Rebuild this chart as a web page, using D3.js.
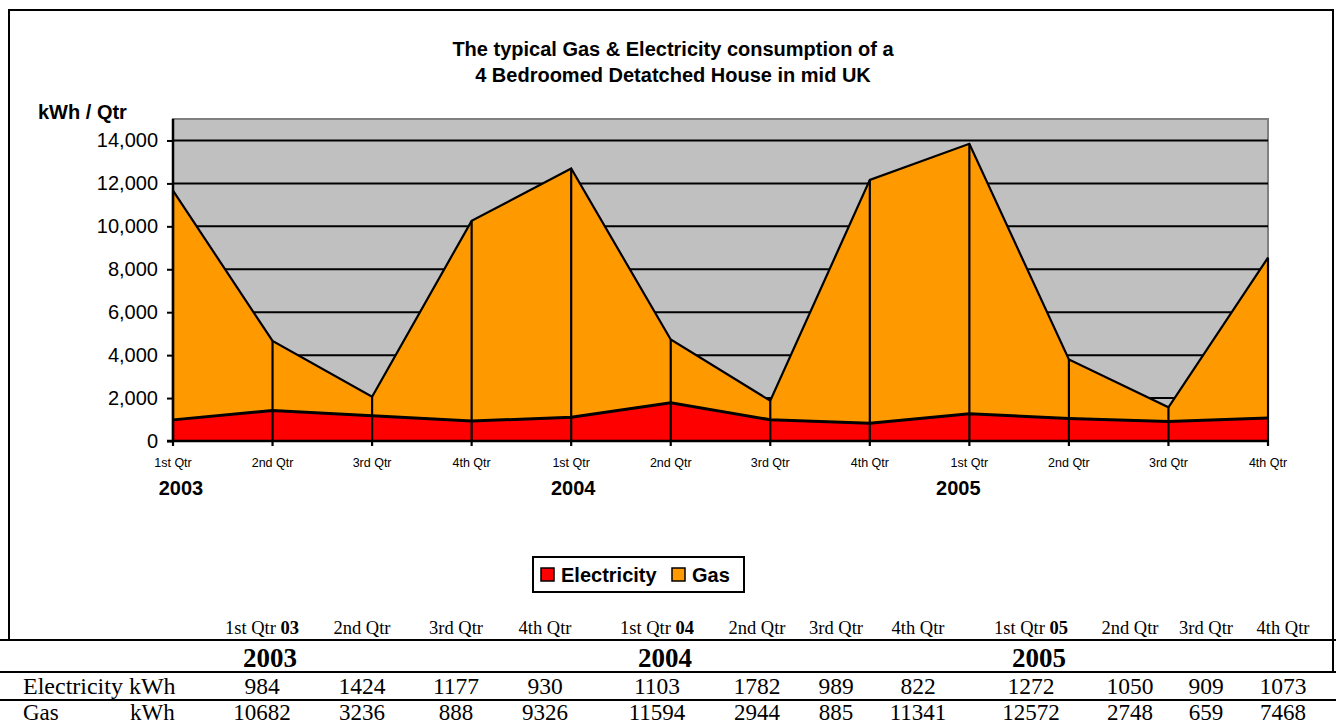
<!DOCTYPE html>
<meta charset="utf-8">
<style>
  body { margin: 0; background: #fff; }
  svg { display: block; }
  .chart text { font-family: Arial, "Liberation Sans", sans-serif; }
  .tbl text { font-family: "Times New Roman", "Liberation Serif", serif; }
</style>
<body>
<svg width="1336" height="725"></svg>
<script src="https://cdn.jsdelivr.net/npm/d3@7"></script>
<script>
  // data
  const quarters = ["1st Qtr", "2nd Qtr", "3rd Qtr", "4th Qtr",
                    "1st Qtr", "2nd Qtr", "3rd Qtr", "4th Qtr",
                    "1st Qtr", "2nd Qtr", "3rd Qtr", "4th Qtr"];
  const years = ["2003", "2004", "2005"];
  const electricity = [984, 1424, 1177, 930, 1103, 1782, 989, 822, 1272, 1050, 909, 1073];
  const gas = [10682, 3236, 888, 9326, 11594, 2944, 885, 11341, 12572, 2748, 659, 7468];
  const yTicks = [0, 2000, 4000, 6000, 8000, 10000, 12000, 14000];

  // table column centres (layout only)
  const tableCols = [262, 362, 456, 545, 657, 757, 836, 918, 1031, 1130, 1206, 1283];

  const svg = d3.select("svg");
  const plot = { left: 173, right: 1268, top: 119, bottom: 441 };

  const x = d3.scalePoint().domain(d3.range(quarters.length)).range([plot.left, plot.right]);
  const y = d3.scaleLinear().domain([0, 15000]).range([plot.bottom, plot.top]);

  const rows = quarters.map((q, i) => ({ i, e: electricity[i], g: gas[i] }));

  // outer frame
  svg.append("path")
      .attr("d", "M9,640 V10 H1333 V672")
      .attr("fill", "none").attr("stroke", "#000").attr("stroke-width", 2);

  const g = svg.append("g").attr("class", "chart");

  // title
  g.append("text").attr("x", 673).attr("y", 56).attr("text-anchor", "middle")
      .attr("font-size", 20).attr("font-weight", "bold")
      .text("The typical Gas & Electricity consumption of a");
  g.append("text").attr("x", 673).attr("y", 82).attr("text-anchor", "middle")
      .attr("font-size", 20).attr("font-weight", "bold")
      .text("4 Bedroomed Detatched House in mid UK");

  g.append("text").attr("x", 38).attr("y", 119)
      .attr("font-size", 20).attr("font-weight", "bold")
      .text("kWh / Qtr");

  // plot background
  g.append("rect")
      .attr("x", plot.left).attr("y", plot.top)
      .attr("width", plot.right - plot.left).attr("height", plot.bottom - plot.top)
      .attr("fill", "#c0c0c0").attr("stroke", "#808080").attr("stroke-width", 2);

  // gridlines
  g.selectAll(".grid").data(yTicks.slice(1)).enter().append("line")
      .attr("x1", plot.left).attr("x2", plot.right)
      .attr("y1", d => y(d)).attr("y2", d => y(d))
      .attr("stroke", "#000").attr("stroke-width", 2);

  // stacked areas
  const gasArea = d3.area().x(d => x(d.i)).y0(d => y(d.e)).y1(d => y(d.e + d.g));
  const elecArea = d3.area().x(d => x(d.i)).y0(y(0)).y1(d => y(d.e));

  g.append("path").datum(rows).attr("d", gasArea).attr("fill", "#ff9900");
  g.append("path").datum(rows).attr("d", elecArea).attr("fill", "#ff0000");

  g.append("path").datum(rows)
      .attr("d", d3.line().x(d => x(d.i)).y(d => y(d.e + d.g)))
      .attr("fill", "none").attr("stroke", "#000").attr("stroke-width", 2.2);
  g.append("path").datum(rows)
      .attr("d", d3.line().x(d => x(d.i)).y(d => y(d.e)))
      .attr("fill", "none").attr("stroke", "#000").attr("stroke-width", 3);

  // drop lines at each quarter
  g.selectAll(".drop").data(rows).enter().append("line")
      .attr("x1", d => x(d.i)).attr("x2", d => x(d.i))
      .attr("y1", d => y(d.e + d.g)).attr("y2", y(0) + 5)
      .attr("stroke", "#000").attr("stroke-width", 2.2);

  // y axis
  const yAxis = g.append("g")
      .attr("transform", `translate(${plot.left},0)`)
      .call(d3.axisLeft(y).tickValues(yTicks).tickFormat(d3.format(",")).tickSize(6).tickPadding(9));
  yAxis.select(".domain").remove();
  yAxis.append("line").attr("x1", 0).attr("x2", 0).attr("y1", plot.top).attr("y2", plot.bottom)
      .attr("stroke", "#000").attr("stroke-width", 2.5);
  yAxis.selectAll(".tick line").attr("stroke-width", 2);
  yAxis.selectAll(".tick text").attr("font-size", 20).attr("fill", "#000")
      .attr("font-family", "Arial, 'Liberation Sans', sans-serif");

  // x axis baseline
  g.append("line").attr("x1", plot.left - 6).attr("x2", plot.right)
      .attr("y1", y(0)).attr("y2", y(0))
      .attr("stroke", "#000").attr("stroke-width", 2.5);

  g.selectAll(".qlab").data(rows).enter().append("text")
      .attr("x", d => x(d.i)).attr("y", 467)
      .attr("text-anchor", "middle").attr("font-size", 12.5)
      .text(d => quarters[d.i]);

  const yearOffsets = [8, 2, -11];
  g.selectAll(".ylab").data(years).enter().append("text")
      .attr("x", (d, k) => x(k * 4) + yearOffsets[k]).attr("y", 495)
      .attr("text-anchor", "middle").attr("font-size", 20).attr("font-weight", "bold")
      .text(d => d);

  // legend
  const leg = g.append("g").attr("transform", "translate(533,557)");
  leg.append("rect").attr("width", 211).attr("height", 35)
      .attr("fill", "#fff").attr("stroke", "#000").attr("stroke-width", 2);
  const legItems = [{ name: "Electricity", color: "#ff0000", x: 8 }, { name: "Gas", color: "#ff9900", x: 139 }];
  legItems.forEach(it => {
    leg.append("rect").attr("x", it.x).attr("y", 11).attr("width", 13).attr("height", 13)
        .attr("fill", it.color).attr("stroke", "#000").attr("stroke-width", 1.5);
    leg.append("text").attr("x", it.x + 20).attr("y", 25)
        .attr("font-size", 20).attr("font-weight", "bold").text(it.name);
  });

  // data table
  const t = svg.append("g").attr("class", "tbl");
  [640, 672, 700].forEach(ly => {
    t.append("line").attr("x1", 0).attr("x2", 1336).attr("y1", ly).attr("y2", ly)
        .attr("stroke", "#000").attr("stroke-width", 2);
  });

  t.selectAll(".hq").data(quarters).enter().append("text")
      .attr("x", (d, i) => tableCols[i]).attr("y", 634)
      .attr("text-anchor", "middle").attr("font-size", 18.5)
      .each(function (d, i) {
        const s = d3.select(this);
        s.append("tspan").text(d);
        if (i % 4 === 0) s.append("tspan").attr("font-weight", "bold").text(" " + years[i / 4].slice(2));
      });

  t.selectAll(".yr").data(years).enter().append("text")
      .attr("x", (d, k) => tableCols[k * 4] + 8).attr("y", 667)
      .attr("text-anchor", "middle").attr("font-size", 27).attr("font-weight", "bold")
      .text(d => d);

  t.append("text").attr("x", 23).attr("y", 694).attr("font-size", 24).text("Electricity kWh");
  t.append("text").attr("x", 23).attr("y", 720).attr("font-size", 23).text("Gas");
  t.append("text").attr("x", 130).attr("y", 720).attr("font-size", 23).text("kWh");

  t.selectAll(".ev").data(electricity).enter().append("text")
      .attr("x", (d, i) => tableCols[i]).attr("y", 694)
      .attr("text-anchor", "middle").attr("font-size", 23.5).text(d => d);
  t.selectAll(".gv").data(gas).enter().append("text")
      .attr("x", (d, i) => tableCols[i]).attr("y", 720)
      .attr("text-anchor", "middle").attr("font-size", 23).text(d => d);
</script>
</body>
